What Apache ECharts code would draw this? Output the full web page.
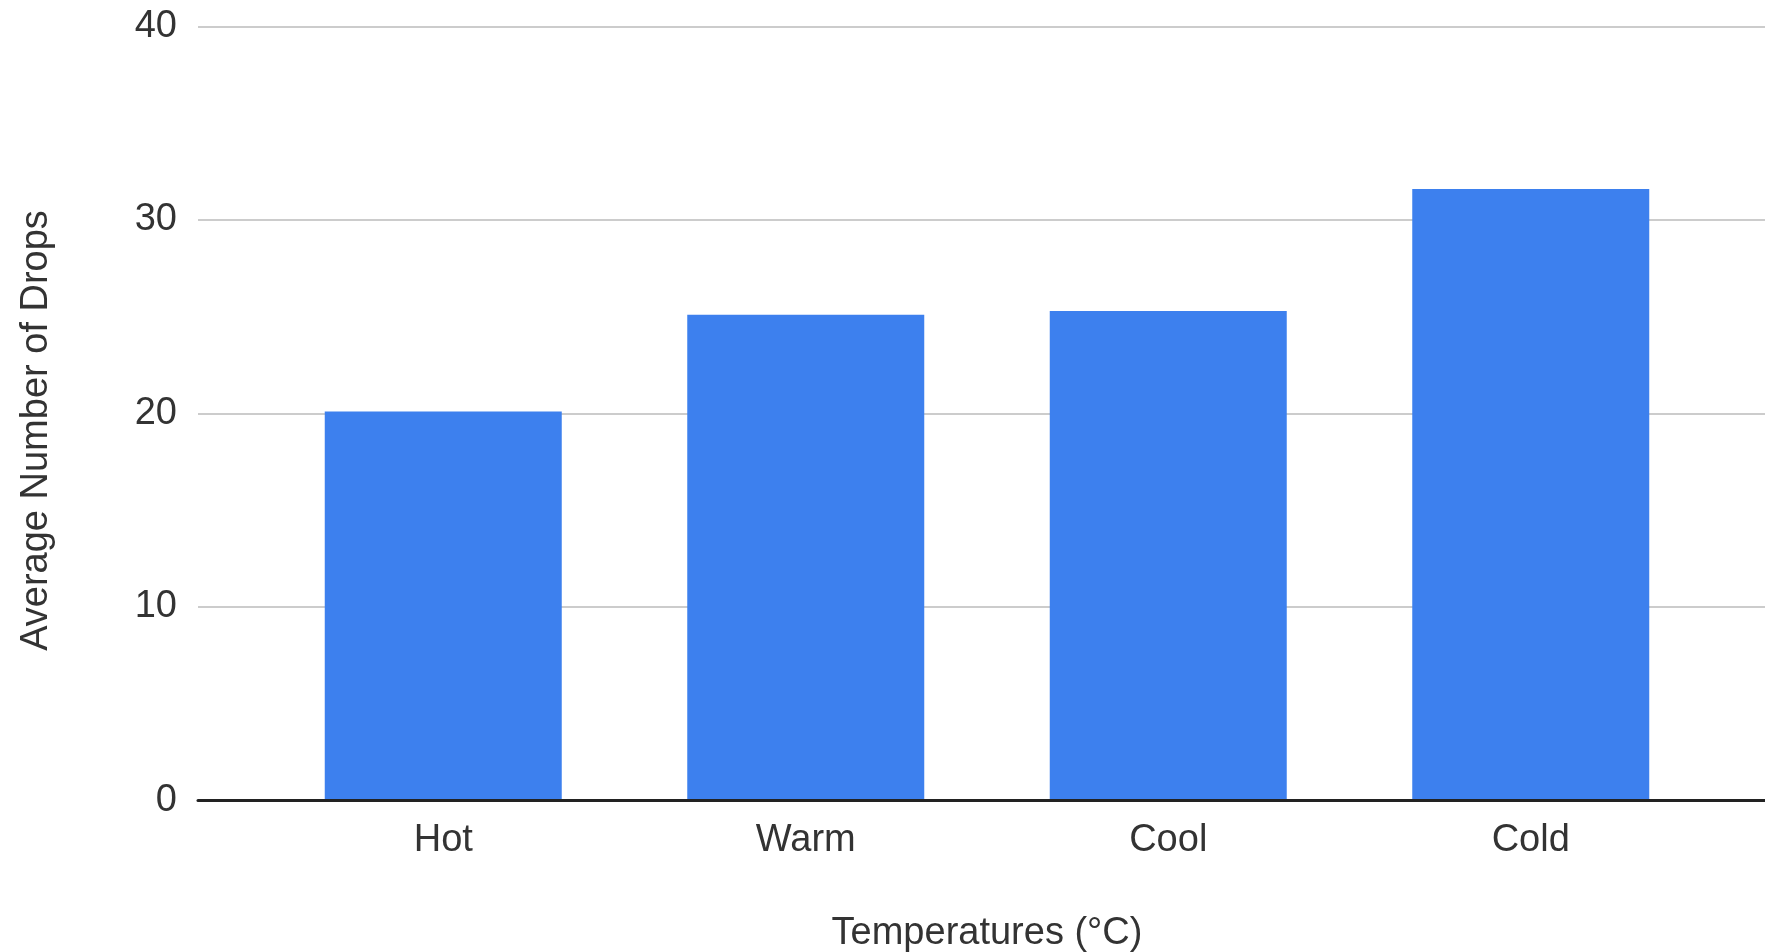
<!DOCTYPE html>
<html>
<head>
<meta charset="utf-8">
<script src="https://cdn.jsdelivr.net/npm/echarts@6/dist/echarts.min.js"></script>
<style>
  html, body { margin: 0; padding: 0; background: #ffffff; }
  #chart { width: 1765px; height: 952px; }
</style>
</head>
<body>
<div id="chart"></div>
<script>
const categories = ['Hot', 'Warm', 'Cool', 'Cold'];
const averageDrops = [20.1, 25.1, 25.3, 31.6];
const yTicks = { min: 0, max: 40, interval: 10 };
const xAxisTitle = 'Temperatures (°C)';
const yAxisTitle = 'Average Number of Drops';

const FONT = '"Liberation Sans", Arial, sans-serif';
const TEXT = '#333333';

const chart = echarts.init(document.getElementById('chart'), null, { renderer: 'canvas' });
chart.setOption({
  backgroundColor: '#ffffff',
  animation: false,
  grid: [
    { left: 198, right: 0, top: 26.5, bottom: 151.5, containLabel: false, outerBoundsMode: 'none' },
    { left: 262, right: 53, top: 26.5, bottom: 151.5, containLabel: false, outerBoundsMode: 'none' }
  ],
  xAxis: [
    {
      type: 'category', gridIndex: 0, data: categories, z: 5,
      axisLine: { show: true, lineStyle: { color: '#222222', width: 3 } },
      axisTick: { show: false }, axisLabel: { show: false }, splitLine: { show: false }
    },
    {
      type: 'category', gridIndex: 1, data: categories,
      axisLine: { show: false }, axisTick: { show: false },
      axisLabel: { color: TEXT, fontSize: 38, fontFamily: FONT, margin: 21 },
      name: xAxisTitle, nameLocation: 'middle', nameGap: 114,
      nameTextStyle: { color: TEXT, fontSize: 38, fontFamily: FONT }
    }
  ],
  yAxis: [
    {
      type: 'value', gridIndex: 0, min: yTicks.min, max: yTicks.max, interval: yTicks.interval,
      axisLine: { show: false }, axisTick: { show: false },
      axisLabel: { color: TEXT, fontSize: 38, fontFamily: FONT, margin: 21 },
      splitLine: { show: true, lineStyle: { color: '#cccccc', width: 2 } },
      name: yAxisTitle, nameLocation: 'middle', nameGap: 142,
      nameTextStyle: { color: TEXT, fontSize: 38, fontFamily: FONT, padding: [0, 34, 0, 0] }
    },
    {
      type: 'value', gridIndex: 1, min: yTicks.min, max: yTicks.max, interval: yTicks.interval,
      show: false
    }
  ],
  series: [
    {
      type: 'bar', xAxisIndex: 1, yAxisIndex: 1, data: averageDrops,
      barWidth: 237,
      itemStyle: { color: '#3d80ee' }
    }
  ]
});
</script>
</body>
</html>
